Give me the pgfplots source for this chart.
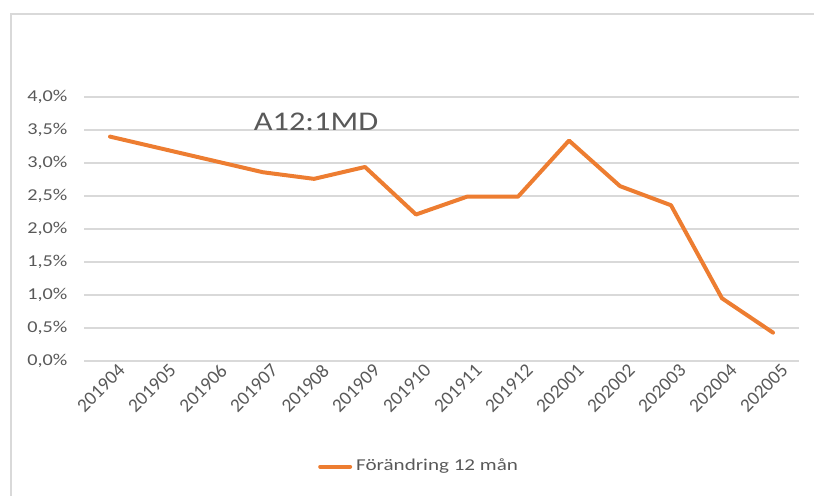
\documentclass[border=0pt]{standalone}
\usepackage{pgfplots}
\pgfplotsset{compat=1.18}
\usepackage{graphicx}
\usepackage{fontspec}
\setmainfont{Carlito}
\definecolor{xlorange}{HTML}{ED7D31}
\definecolor{xlgray}{HTML}{595959}
\definecolor{xlgrid}{HTML}{D9D9D9}
\begin{document}
\begin{tikzpicture}
\path[use as bounding box] (-42.25pt,-67pt) rectangle (364.75pt,180.5pt);
\draw[xlgrid, line width=1pt] (-36.75pt,-80pt) -- (-36.75pt,173.5pt) -- (370pt,173.5pt);
\begin{axis}[
  at={(0,0)}, anchor=south west,
  scale only axis,
  width=357pt, height=132pt,
  xmin=-0.5, xmax=13.5,
  ymin=0, ymax=4,
  axis line style={draw=none},
  major tick length=0pt,
  ytick={0,0.5,...,4},
  yticklabels={{0,0\%},{0,5\%},{1,0\%},{1,5\%},{2,0\%},{2,5\%},{3,0\%},{3,5\%},{4,0\%}},
  xtick={0,...,13},
  xticklabels={201904,201905,201906,201907,201908,201909,201910,201911,201912,202001,202002,202003,202004,202005},
  ymajorgrids,
  grid style={xlgrid, line width=0.8pt},
  tick label style={font=\fontsize{8.3pt}{10pt}\selectfont, text=xlgray},
  xticklabel style={font=\fontsize{9.6pt}{10pt}\selectfont, rotate=45, anchor=north east, xshift=3pt, yshift=-2pt, inner sep=1pt},
  yticklabel style={xscale=1.22, anchor=east, xshift=-3.5pt},
  legend style={at={(0.47,-0.40)}, anchor=center, draw=none, fill=none,
    font=\fontsize{8.3pt}{10pt}\selectfont, text=xlgray,
    /tikz/every even column/.append style={column sep=2pt}},
  legend cell align=left,
  legend image code/.code={\draw[#1, line cap=round] (0pt,0pt) -- (15pt,0pt);},
]
\addplot[color=xlorange, line width=2pt, line join=round, line cap=round, mark=none]
coordinates {
(0,3.40) (1,3.22) (2,3.04) (3,2.86) (4,2.76) (5,2.94) (6,2.22)
(7,2.49) (8,2.49) (9,3.34) (10,2.65) (11,2.36) (12,0.95) (13,0.43)
};
\addlegendentry{\scalebox{1.27}[1]{Förändring 12 mån}}
\node[text=xlgray, font=\fontsize{13.5pt}{16pt}\selectfont, xscale=1.2] at (axis cs:4.04,3.63) {A12:1MD};
\end{axis}
\end{tikzpicture}
\end{document}
